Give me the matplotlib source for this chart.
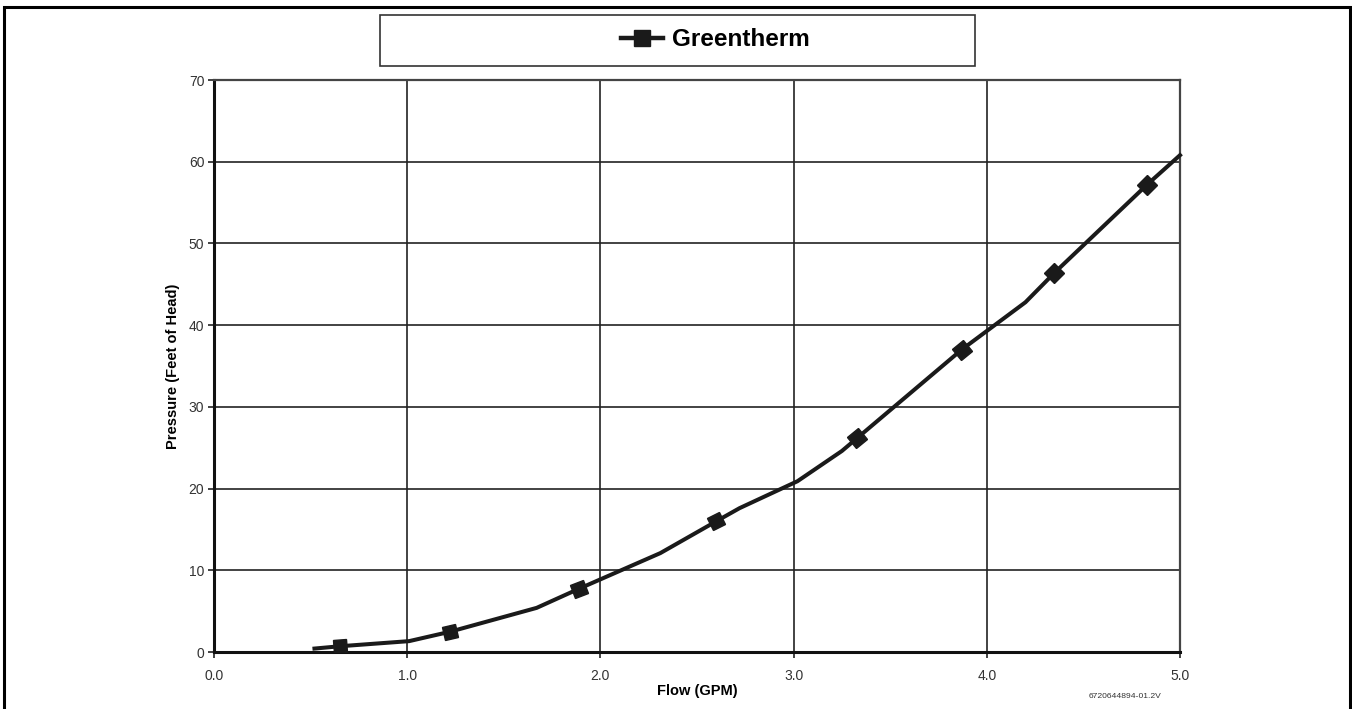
import numpy as np
import matplotlib
matplotlib.use("Agg")
import matplotlib.pyplot as plt
from matplotlib.markers import MarkerStyle
from matplotlib.transforms import Affine2D
from matplotlib.patches import Rectangle
from matplotlib.lines import Line2D

plt.rcParams["font.family"] = ["Liberation Sans", "DejaVu Sans"]

# pressure drop curve (line vertices)
curve_flow = [0.52, 0.65, 1.01, 1.22, 1.67, 1.89, 2.31, 2.60, 2.72, 3.02,
              3.25, 3.33, 3.87, 4.20, 4.35, 4.83, 5.00]
curve_head = [0.42, 0.70, 1.33, 2.47, 5.40, 7.75, 12.1, 16.0, 17.6, 20.9,
              24.6, 26.2, 37.0, 42.8, 46.4, 57.2, 60.8]

# marked points on the curve
marker_flow = [0.65, 1.22, 1.89, 2.60, 3.33, 3.87, 4.35, 4.83]
marker_head = [0.70, 2.47, 7.75, 16.0, 26.2, 37.0, 46.4, 57.2]

x_ticks = [0.0, 1.0, 2.0, 3.0, 4.0, 5.0]
x_tick_labels = ["0.0", "1.0", "2.0", "3.0", "4.0", "5.0"]
y_ticks = [0, 10, 20, 30, 40, 50, 60, 70]

W, H = 1352, 709
fig = plt.figure(figsize=(W / 100, H / 100), dpi=100)
ax = fig.add_axes([214 / W, 1 - 652 / H, (1180 - 214) / W, (652 - 80) / H])
ax.set_xlim(0, 5)
ax.set_ylim(0, 70)

ax.set_xticks(x_ticks)
ax.set_xticklabels(x_tick_labels)
ax.set_yticks(y_ticks)
ax.grid(True, color="#222222", linewidth=1.2)
ax.set_axisbelow(True)

ax.tick_params(axis="both", direction="out", length=4, width=1.2,
               colors="#222222", labelsize=10, labelcolor="#333333")
ax.tick_params(axis="x", pad=8)
ax.tick_params(axis="y", pad=3)

ax.spines["left"].set_linewidth(2.2)
ax.spines["bottom"].set_linewidth(2.2)
ax.spines["left"].set_color("#111111")
ax.spines["bottom"].set_color("#111111")
ax.spines["top"].set_linewidth(1.6)
ax.spines["right"].set_linewidth(1.6)
ax.spines["top"].set_color("#444444")
ax.spines["right"].set_color("#444444")

ax.plot(curve_flow, curve_head, color="#1a1a1a", linewidth=2.9,
        solid_joinstyle="round", zorder=3, clip_on=False)

# square markers turned to follow the curve
for fx, hy in zip(marker_flow, marker_head):
    p0 = ax.transData.transform((fx - 0.06, np.interp(fx - 0.06, curve_flow, curve_head)))
    p1 = ax.transData.transform((fx + 0.06, np.interp(fx + 0.06, curve_flow, curve_head)))
    ang = np.degrees(np.arctan2(p1[1] - p0[1], p1[0] - p0[0]))
    m = MarkerStyle("s", transform=Affine2D().rotate_deg(ang))
    ax.plot([fx], [hy], marker=m, markersize=10, color="#1a1a1a",
            linestyle="none", zorder=4)

ax.set_xlabel("Flow (GPM)", fontsize=10.5, fontweight="bold", labelpad=1)
ax.set_ylabel("Pressure (Feet of Head)", fontsize=10.5, fontweight="bold", labelpad=6)

# legend box on top
fig.add_artist(Rectangle((380 / W, 1 - 66 / H), (975 - 380) / W, (66 - 15) / H,
                         transform=fig.transFigure, fill=False,
                         edgecolor="#333333", linewidth=1.2))
handle = Line2D([], [], color="#1a1a1a", linewidth=3.2, marker="s",
                markersize=11)
fig.legend([handle], ["Greentherm"], loc="center",
           bbox_to_anchor=(715 / W, 1 - 40 / H), frameon=False,
           prop={"size": 17.5, "weight": "bold"}, handlelength=1.75,
           handletextpad=0.35)

# outer frame
fig.add_artist(Rectangle((4 / W, -0.05), (1350 - 4) / W, 1.05 - 6.5 / H,
                         transform=fig.transFigure, fill=False,
                         edgecolor="black", linewidth=2.2))

fig.text(1125 / W, 1 - 697 / H, "6720644894-01.2V", fontsize=6.1,
         color="#333333", ha="center", va="center")

fig.savefig("out.png", dpi=100)
